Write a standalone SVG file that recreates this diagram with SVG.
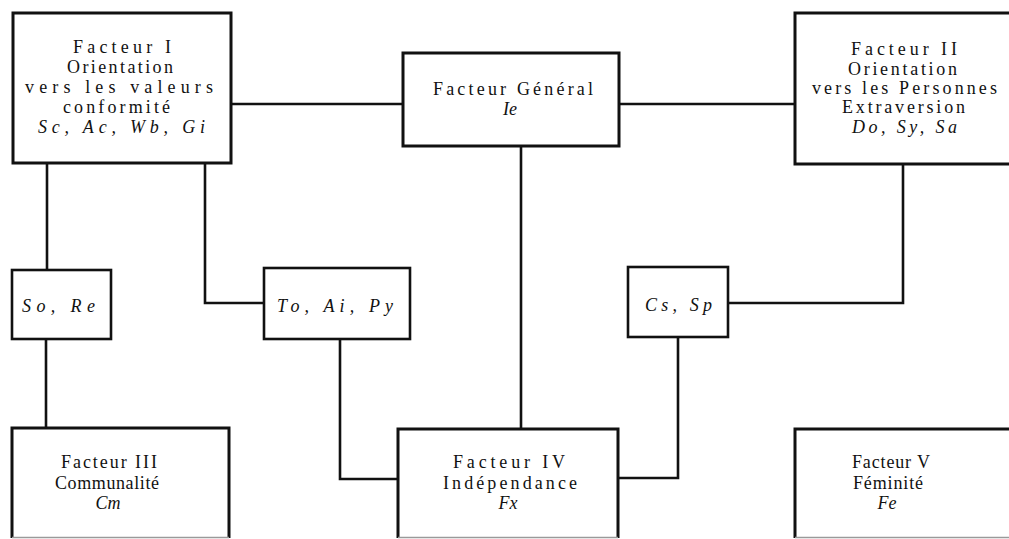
<svg xmlns="http://www.w3.org/2000/svg" width="1009" height="539" viewBox="0 0 1009 539">
<style>
.bg{fill:#ffffff}
.box{fill:#ffffff;stroke:#111111;stroke-width:3}
.sbox{fill:#ffffff;stroke:#111111;stroke-width:2.6}
.bot{stroke:#9a9a9a;stroke-width:1.5;fill:none}
.con{fill:none;stroke:#111111;stroke-width:2.6}
text{font-family:"Liberation Serif","Times New Roman",serif;font-size:18px;fill:#111111}
.i{font-style:italic}
</style>
<rect class="bg" x="0" y="0" width="1009" height="539"/>
<g id="connectors">
<path class="con" d="M231,104 H403"/>
<path class="con" d="M619,104 H795"/>
<path class="con" d="M47,163 V270"/>
<path class="con" d="M46,339 V428"/>
<path class="con" d="M205,163 V303 H264"/>
<path class="con" d="M340,339 V479 H398"/>
<path class="con" d="M521,146 V429"/>
<path class="con" d="M903,164 V303 H728"/>
<path class="con" d="M678,337 V478 H618"/>
</g>
<g id="facteur1">
<rect class="box" x="13" y="13" width="218" height="150"/>
<text x="73" y="53" textLength="98" lengthAdjust="spacing">Facteur I</text>
<text x="67" y="73" textLength="106" lengthAdjust="spacing">Orientation</text>
<text x="25" y="93" textLength="188" lengthAdjust="spacing">vers les valeurs</text>
<text x="63" y="113" textLength="107" lengthAdjust="spacing">conformité</text>
<text class="i" x="38" y="133" textLength="167" lengthAdjust="spacing">Sc, Ac, Wb, Gi</text>
</g>
<g id="facteurGeneral">
<rect class="box" x="403" y="53" width="216" height="93"/>
<text x="433" y="95" textLength="160" lengthAdjust="spacing">Facteur Général</text>
<text class="i" x="510" y="115" text-anchor="middle">Ie</text>
</g>
<g id="facteur2">
<rect class="box" x="795" y="13" width="230" height="151"/>
<text x="851" y="55" textLength="106" lengthAdjust="spacing">Facteur II</text>
<text x="848" y="75" textLength="109" lengthAdjust="spacing">Orientation</text>
<text x="812" y="94" textLength="185" lengthAdjust="spacing">vers les Personnes</text>
<text x="842" y="113" textLength="123" lengthAdjust="spacing">Extraversion</text>
<text class="i" x="852" y="133" textLength="105" lengthAdjust="spacing">Do, Sy, Sa</text>
</g>
<g id="soRe">
<rect class="sbox" x="12" y="270" width="99" height="69"/>
<text class="i" x="22" y="312" textLength="73" lengthAdjust="spacing">So, Re</text>
</g>
<g id="toAiPy">
<rect class="sbox" x="264" y="268" width="146" height="71"/>
<text class="i" x="277" y="312" textLength="116" lengthAdjust="spacing">To, Ai, Py</text>
</g>
<g id="csSp">
<rect class="sbox" x="628" y="267" width="100" height="70"/>
<text class="i" x="645" y="311" textLength="67" lengthAdjust="spacing">Cs, Sp</text>
</g>
<g id="facteur3">
<rect x="12" y="428" width="217" height="110" fill="#ffffff"/>
<path class="con" style="stroke-width:3" d="M12,538 V428 H229 V538"/>
<path class="bot" d="M12,537.5 H229"/>
<text x="109" y="468" text-anchor="middle" textLength="96" lengthAdjust="spacing">Facteur III</text>
<text x="107" y="489" text-anchor="middle" textLength="104" lengthAdjust="spacing">Communalité</text>
<text class="i" x="108" y="509" text-anchor="middle">Cm</text>
</g>
<g id="facteur4">
<rect x="398" y="429" width="220" height="109" fill="#ffffff"/>
<path class="con" style="stroke-width:3" d="M398,538 V429 H618 V538"/>
<path class="bot" d="M398,537.5 H618"/>
<text x="453" y="468" textLength="112" lengthAdjust="spacing">Facteur IV</text>
<text x="443" y="489" textLength="134" lengthAdjust="spacing">Indépendance</text>
<text class="i" x="508" y="509" text-anchor="middle">Fx</text>
</g>
<g id="facteur5">
<rect x="795" y="429" width="220" height="109" fill="#ffffff"/>
<path class="con" style="stroke-width:3" d="M795,538 V429 H1012"/>
<path class="bot" d="M795,537.5 H1012"/>
<text x="891" y="468" text-anchor="middle" textLength="78" lengthAdjust="spacing">Facteur V</text>
<text x="888" y="489" text-anchor="middle" textLength="70" lengthAdjust="spacing">Féminité</text>
<text class="i" x="887" y="509" text-anchor="middle">Fe</text>
</g>
</svg>
